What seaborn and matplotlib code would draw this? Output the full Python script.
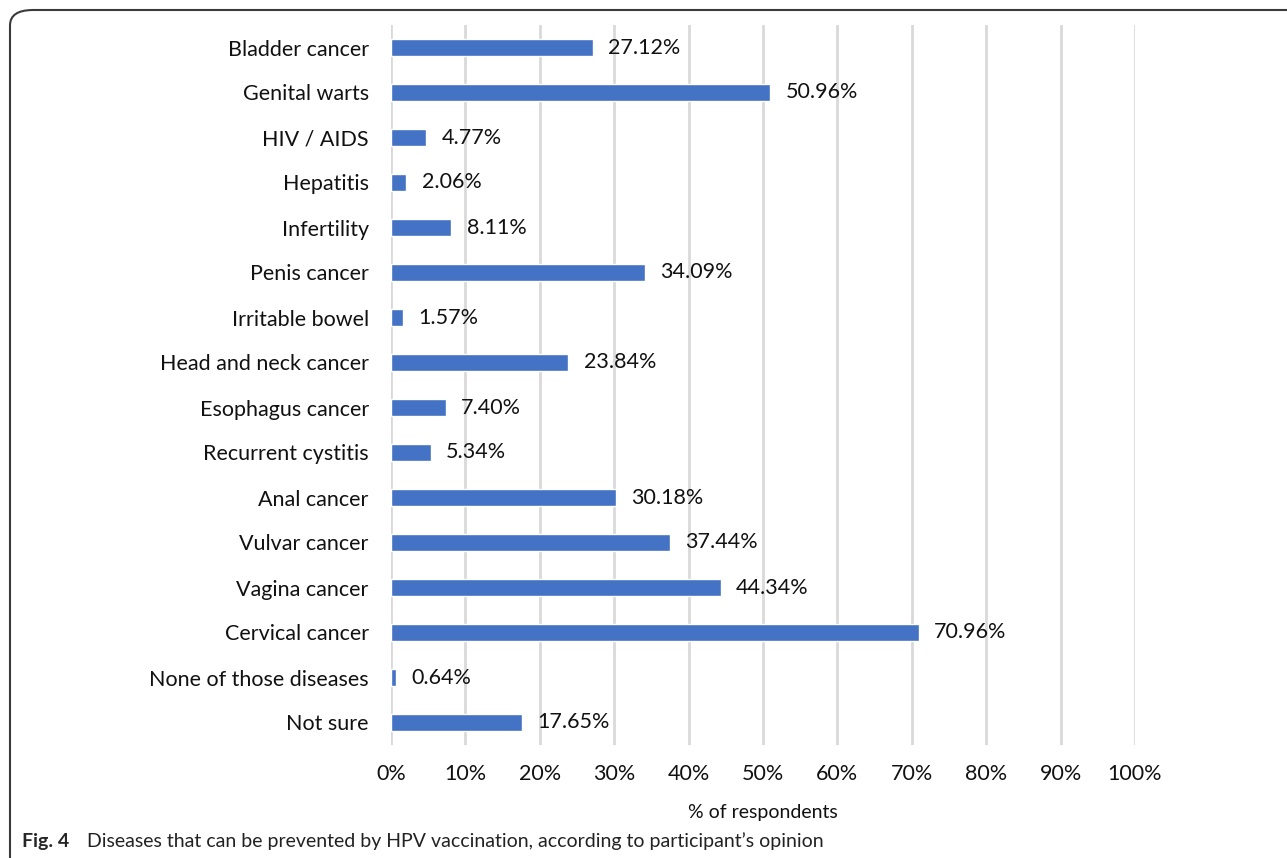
import matplotlib
matplotlib.use("Agg")
import matplotlib.pyplot as plt
import seaborn as sns
import pandas as pd
from matplotlib.patches import FancyBboxPatch
from matplotlib.ticker import PercentFormatter

diseases = ["Bladder cancer", "Genital warts", "HIV / AIDS", "Hepatitis", "Infertility",
            "Penis cancer", "Irritable bowel", "Head and neck cancer", "Esophagus cancer",
            "Recurrent cystitis", "Anal cancer", "Vulvar cancer", "Vagina cancer",
            "Cervical cancer", "None of those diseases", "Not sure"]
percent = [27.12, 50.96, 4.77, 2.06, 8.11, 34.09, 1.57, 23.84, 7.40,
           5.34, 30.18, 37.44, 44.34, 70.96, 0.64, 17.65]
x_ticks = list(range(0, 101, 10))

df = pd.DataFrame({"Disease": diseases, "Percent": percent})

sns.set_style("white")
plt.rcParams["font.family"] = ["Lato", "DejaVu Sans"]

fig = plt.figure(figsize=(12.87, 8.58), dpi=100)
ax = fig.add_axes([391 / 1287, 1 - 745 / 858, (1135 - 391) / 1287, 720 / 858])

sns.barplot(data=df, x="Percent", y="Disease", orient="h", color="#4472C4",
            width=0.36, saturation=1, ax=ax, zorder=3)

ax.set_xlim(0, 100)
ax.set_ylim(15.5, -0.5)
ax.set_xticks(x_ticks)
ax.xaxis.set_major_formatter(PercentFormatter(decimals=0))
ax.grid(axis="x", color="#d9d9d9", linewidth=2, zorder=0)
ax.grid(axis="y", visible=False)
for s in ax.spines.values():
    s.set_visible(False)
ax.tick_params(axis="both", length=0, labelsize=15.5, labelcolor="#111111")
ax.tick_params(axis="y", pad=16)
ax.tick_params(axis="x", pad=14)
ax.set_ylabel("")
ax.set_xlabel("% of respondents", fontsize=14, labelpad=14, color="#111111")

ax.bar_label(ax.containers[0], labels=[f"{v:.2f}%" for v in percent],
             padding=11, fontsize=15.5, color="#111111")

# rounded frame around the figure panel
frame = FancyBboxPatch((10 / 1287, -0.2), 1.2, (1 - 10 / 858) + 0.2,
                       boxstyle="round,pad=0,rounding_size=0.018",
                       transform=fig.transFigure, fill=False,
                       edgecolor="#3a3a3a", linewidth=1.5, clip_on=False)
fig.patches.append(frame)

fig.text(22 / 1287, 1 - 841 / 858, "Fig. 4", fontsize=14, fontweight="bold",
         va="center", ha="left")
fig.text(87 / 1287, 1 - 841 / 858,
         "Diseases that can be prevented by HPV vaccination, according to participant\u2019s opinion",
         fontsize=14, va="center", ha="left", color="#222222")

fig.savefig("out.png", dpi=100)
